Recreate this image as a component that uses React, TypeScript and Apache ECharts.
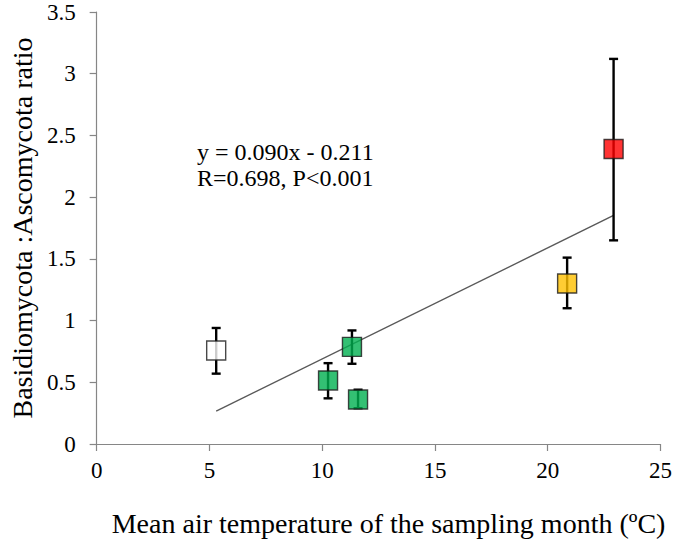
import React, { useEffect, useRef } from "react";
import * as echarts from "echarts";

const temps = [5.3, 10.26, 11.32, 11.59, 20.86, 22.92];
const ratios = [0.757, 0.515, 0.787, 0.36, 1.3, 2.39];
const errLow = [0.57, 0.37, 0.65, 0.29, 1.1, 1.65];
const errHigh = [0.94, 0.655, 0.92, 0.44, 1.51, 3.12];
const pointColors = ["#FFFFFF", "#00B050", "#00B050", "#00B050", "#FFC000", "#FF0000"];
const trendX = [5.3, 22.92];
const trendY = [0.266, 1.852];
const equationText = "y = 0.090x - 0.211";
const statsText = "R=0.698, P<0.001";
const xTitle = "Mean air temperature of the sampling month (ºC)";
const yTitle = "Basidiomycota :Ascomycota ratio";

const FONT = "'Liberation Serif', 'Times New Roman', serif";

export default function App() {
  const ref = useRef<HTMLDivElement>(null);
  useEffect(() => {
    if (!ref.current) return;
    const chart = echarts.init(ref.current, null, { renderer: "svg" });
    const errData = temps.map((t, i) => [t, errLow[i], errHigh[i]]);
    chart.setOption({
      animation: false,
      backgroundColor: "#FFFFFF",
      textStyle: { fontFamily: FONT },
      grid: { left: 96, top: 12, right: 13, bottom: 97, containLabel: false },
      xAxis: {
        type: "value",
        min: 0,
        max: 25,
        interval: 5,
        name: xTitle,
        nameLocation: "middle",
        nameGap: 65,
        nameTextStyle: { fontFamily: FONT, fontSize: 28, color: "#000", padding: [0, 0, 0, 20] },
        axisLine: { show: true, lineStyle: { color: "#868686", width: 1.2 } },
        axisTick: { show: true, length: 7, lineStyle: { color: "#868686", width: 1.2 } },
        axisLabel: { fontFamily: FONT, fontSize: 23, color: "#000", margin: 15 },
        splitLine: { show: false },
      },
      yAxis: {
        type: "value",
        min: 0,
        max: 3.5,
        interval: 0.5,
        name: yTitle,
        nameLocation: "middle",
        nameGap: 58,
        nameRotate: 90,
        nameTextStyle: { fontFamily: FONT, fontSize: 28, color: "#000" },
        axisLine: { show: true, lineStyle: { color: "#868686", width: 1.2 } },
        axisTick: { show: true, length: 7, lineStyle: { color: "#868686", width: 1.2 } },
        axisLabel: { fontFamily: FONT, fontSize: 23, color: "#000", margin: 21 },
        splitLine: { show: false },
      },
      graphic: [
        {
          type: "text",
          left: 197,
          top: 139,
          style: {
            text: equationText + "\n" + statsText,
            fontFamily: FONT,
            fontSize: 24,
            fill: "#000",
            lineHeight: 26,
          },
        },
      ],
      series: [
        {
          type: "line",
          data: trendX.map((x, i) => [x, trendY[i]]),
          symbol: "none",
          lineStyle: { color: "#595959", width: 1.4 },
          z: 1,
        },
        {
          type: "custom",
          data: errData,
          z: 2,
          renderItem: (params: any, api: any) => {
            const x = api.value(0);
            const lo = api.coord([x, api.value(1)]);
            const hi = api.coord([x, api.value(2)]);
            const cap = 4.5;
            const style = { stroke: "#000", lineWidth: 2.4 };
            return {
              type: "group",
              children: [
                { type: "line", shape: { x1: lo[0], y1: lo[1], x2: hi[0], y2: hi[1] }, style },
                { type: "line", shape: { x1: lo[0] - cap, y1: lo[1], x2: lo[0] + cap, y2: lo[1] }, style },
                { type: "line", shape: { x1: hi[0] - cap, y1: hi[1], x2: hi[0] + cap, y2: hi[1] }, style },
              ],
            };
          },
        },
        {
          type: "scatter",
          data: temps.map((t, i) => ({
            value: [t, ratios[i]],
            itemStyle: { color: pointColors[i] },
          })),
          symbol: "rect",
          symbolSize: 19,
          itemStyle: { borderColor: "#1a1a1a", borderWidth: 1.4 },
          z: 3,
        },
      ],
    });
    return () => chart.dispose();
  }, []);
  return (
    <div
      ref={ref}
      style={{ position: "fixed", left: 0, top: 0, width: 675, height: 542 }}
    />
  );
}
